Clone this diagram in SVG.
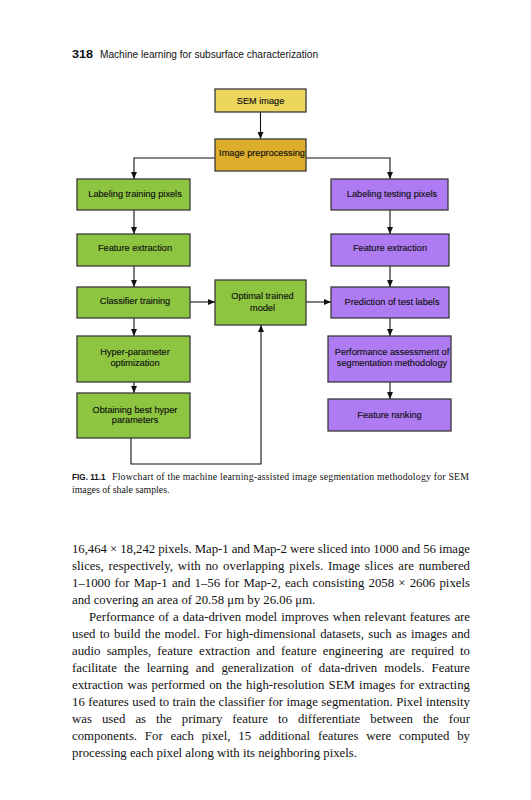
<svg xmlns="http://www.w3.org/2000/svg" width="531" height="800" viewBox="0 0 531 800">
<defs>
<marker id="ah" markerUnits="userSpaceOnUse" markerWidth="7" markerHeight="6" refX="7" refY="3" orient="auto">
<path d="M0,0 L7,3 L0,6 z" fill="#111"/>
</marker>
<style>
.box{stroke:#3a3a3a;stroke-width:1.3}
.y1{fill:#ECD65E}
.y2{fill:#DCAE2C}
.g{fill:#8DC540}
.p{fill:#AE7BF3}
.bt{font-family:"Liberation Sans",Arial,sans-serif;font-size:9.2px;fill:#111;text-anchor:middle;stroke:#111;stroke-width:0.15}
.ln{fill:none;stroke:#111;stroke-width:1.1}
.body{font-family:"Liberation Serif","Times New Roman",serif;font-size:12.8px;fill:#111}
.cap{font-family:"Liberation Serif","Times New Roman",serif;font-size:9.8px;fill:#111}
.hd{font-family:"Liberation Sans",Arial,sans-serif;font-size:10px;fill:#111}
.fig{font-family:"Liberation Sans",Arial,sans-serif;font-size:8.2px;font-weight:bold;fill:#111}
</style>
</defs>
<rect width="531" height="800" fill="#fff"/>
<text class="hd" x="72" y="58" style="font-size:10.5px;font-weight:bold" textLength="21" lengthAdjust="spacingAndGlyphs">318</text>
<text class="hd" x="100" y="58" textLength="218" lengthAdjust="spacingAndGlyphs">Machine learning for subsurface characterization</text>

<g id="connectors">
<path class="ln" d="M260.5,112 V139" marker-end="url(#ah)"/>
<path class="ln" d="M215,158 H134 V179" marker-end="url(#ah)"/>
<path class="ln" d="M306,158 H390 V179" marker-end="url(#ah)"/>
<path class="ln" d="M134,210 V234" marker-end="url(#ah)"/>
<path class="ln" d="M134,266 V287" marker-end="url(#ah)"/>
<path class="ln" d="M134,318 V336" marker-end="url(#ah)"/>
<path class="ln" d="M134,382 V393" marker-end="url(#ah)"/>
<path class="ln" d="M390,210 V234" marker-end="url(#ah)"/>
<path class="ln" d="M390,266 V287" marker-end="url(#ah)"/>
<path class="ln" d="M390,318 V336" marker-end="url(#ah)"/>
<path class="ln" d="M390,382 V399" marker-end="url(#ah)"/>
<path class="ln" d="M190,302 H215" marker-end="url(#ah)"/>
<path class="ln" d="M306,302 H331" marker-end="url(#ah)"/>
<path class="ln" d="M131,438 V464 H261 V325" marker-end="url(#ah)"/>
</g>

<g id="sem"><rect class="box y1" x="215" y="89" width="91" height="23"/><text class="bt" x="260.5" y="104">SEM image</text></g>
<g id="preproc"><rect class="box y2" x="215" y="139" width="91" height="32"/><text class="bt" x="262" y="156">Image preprocessing</text></g>
<g id="lab-train"><rect class="box g" x="77" y="179" width="113" height="31"/><text class="bt" x="135" y="196.5">Labeling training pixels</text></g>
<g id="lab-test"><rect class="box p" x="331" y="179" width="117" height="31"/><text class="bt" x="392" y="196.5">Labeling testing pixels</text></g>
<g id="fe-left"><rect class="box g" x="77" y="234" width="113" height="32"/><text class="bt" x="135" y="251">Feature extraction</text></g>
<g id="fe-right"><rect class="box p" x="331" y="234" width="118" height="32"/><text class="bt" x="390" y="251">Feature extraction</text></g>
<g id="classifier"><rect class="box g" x="77" y="287" width="113" height="31"/><text class="bt" x="135" y="303.5">Classifier training</text></g>
<g id="optimal"><rect class="box g" x="215" y="280" width="91" height="45"/><text class="bt" x="262.5" y="299">Optimal trained</text><text class="bt" x="262.5" y="310.5">model</text></g>
<g id="prediction"><rect class="box p" x="331" y="287" width="118" height="31"/><text class="bt" x="392" y="304.5">Prediction of test labels</text></g>
<g id="hyper"><rect class="box g" x="77" y="336" width="113" height="46"/><text class="bt" x="135" y="354.5">Hyper-parameter</text><text class="bt" x="135" y="366">optimization</text></g>
<g id="best"><rect class="box g" x="77" y="393" width="113" height="45"/><text class="bt" x="135" y="412.5">Obtaining best hyper</text><text class="bt" x="135" y="423">parameters</text></g>
<g id="perf"><rect class="box p" x="328" y="336" width="123" height="46"/><text class="bt" x="392" y="354.5">Performance assessment of</text><text class="bt" x="392" y="366">segmentation methodology</text></g>
<g id="ranking"><rect class="box p" x="328" y="399" width="123" height="32"/><text class="bt" x="389.5" y="417.5">Feature ranking</text></g>

<text class="fig" x="72" y="480">FIG. 11.1</text>
<text class="cap" x="112" y="480" textLength="357" lengthAdjust="spacing">Flowchart of the machine learning-assisted image segmentation methodology for SEM</text>
<text class="cap" x="72" y="493">images of shale samples.</text>

<g class="body">
<text x="72" y="553" textLength="398" lengthAdjust="spacing">16,464 × 18,242 pixels. Map-1 and Map-2 were sliced into 1000 and 56 image</text>
<text x="72" y="570" word-spacing="1.6" textLength="398" lengthAdjust="spacing">slices, respectively, with no overlapping pixels. Image slices are numbered</text>
<text x="72" y="587" word-spacing="1" textLength="398" lengthAdjust="spacing">1–1000 for Map-1 and 1–56 for Map-2, each consisting 2058 × 2606 pixels</text>
<text x="72" y="604">and covering an area of 20.58 μm by 26.06 μm.</text>
<text x="89" y="621" word-spacing="0.86" textLength="381" lengthAdjust="spacing">Performance of a data-driven model improves when relevant features are</text>
<text x="72" y="638" word-spacing="1.1" textLength="398" lengthAdjust="spacing">used to build the model. For high-dimensional datasets, such as images and</text>
<text x="72" y="655" word-spacing="3" textLength="398" lengthAdjust="spacing">audio samples, feature extraction and feature engineering are required to</text>
<text x="72" y="672" word-spacing="3.9" textLength="398" lengthAdjust="spacing">facilitate the learning and generalization of data-driven models. Feature</text>
<text x="72" y="689" word-spacing="1" textLength="398" lengthAdjust="spacing">extraction was performed on the high-resolution SEM images for extracting</text>
<text x="72" y="706" word-spacing="0.27" textLength="398" lengthAdjust="spacing">16 features used to train the classifier for image segmentation. Pixel intensity</text>
<text x="72" y="723" word-spacing="6.8" textLength="398" lengthAdjust="spacing">was used as the primary feature to differentiate between the four</text>
<text x="72" y="740" word-spacing="4.6" textLength="398" lengthAdjust="spacing">components. For each pixel, 15 additional features were computed by</text>
<text x="72" y="757">processing each pixel along with its neighboring pixels.</text>
</g>
</svg>
